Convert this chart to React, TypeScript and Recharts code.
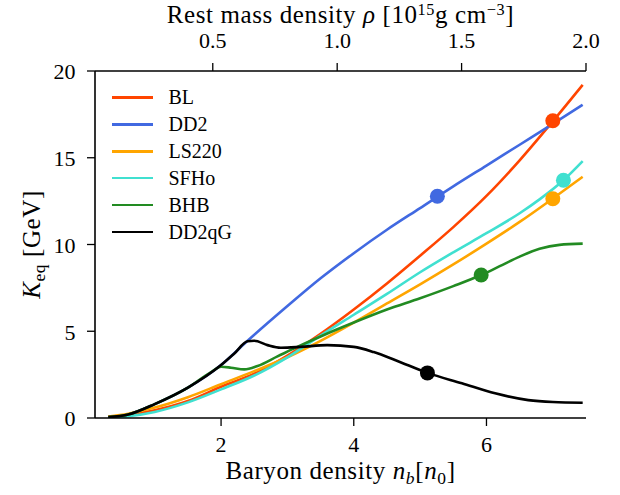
import React from 'react';
import { ComposedChart, Line, Scatter, XAxis, YAxis, Legend, Label } from 'recharts';

// ---- Data (baryon density n_b in units of n_0, K_eq in GeV) ----
const blNb = [0.3, 0.6, 1.0, 1.5, 2.0, 2.5, 3.0, 3.5, 4.0, 4.5, 5.0, 5.5, 6.0, 6.5, 7.0, 7.45];
const blK = [0.05, 0.18, 0.45, 0.98, 1.8, 2.55, 3.6, 4.85, 6.25, 7.75, 9.35, 11.0, 12.8, 14.85, 17.1, 19.2];

const dd2Nb = [0.3, 0.6, 1.0, 1.5, 2.0, 2.4, 3.0, 3.5, 4.0, 4.5, 5.0, 5.5, 6.0, 6.5, 7.0, 7.45];
const dd2K = [0.05, 0.2, 0.8, 1.75, 3.05, 4.45, 6.45, 8.05, 9.5, 10.85, 12.1, 13.35, 14.55, 15.75, 16.95, 18.05];

const ls220Nb = [0.3, 0.6, 1.0, 1.5, 2.0, 2.5, 3.0, 3.5, 4.0, 4.5, 5.0, 5.5, 6.0, 6.5, 7.0, 7.45];
const ls220K = [0.08, 0.25, 0.6, 1.2, 1.95, 2.7, 3.5, 4.45, 5.5, 6.6, 7.7, 8.85, 10.05, 11.3, 12.65, 13.9];

const sfhoNb = [0.3, 0.6, 1.0, 1.5, 2.0, 2.5, 3.0, 3.5, 4.0, 4.5, 5.0, 5.5, 6.0, 6.5, 6.8, 7.16, 7.45];
const sfhoK = [0.02, 0.1, 0.35, 0.9, 1.65, 2.45, 3.5, 4.75, 5.95, 7.15, 8.4, 9.55, 10.65, 11.8, 12.6, 13.7, 14.8];

const bhbNb = [0.3, 0.6, 1.0, 1.5, 1.85, 2.0, 2.15, 2.35, 2.55, 2.85, 3.15, 3.5, 4.0, 4.5, 5.0, 5.5, 5.92, 6.2, 6.5, 6.8, 7.1, 7.45];
const bhbK = [0.05, 0.2, 0.8, 1.75, 2.65, 2.95, 2.9, 2.8, 3.0, 3.55, 4.1, 4.7, 5.5, 6.25, 6.9, 7.6, 8.24, 8.75, 9.3, 9.75, 9.98, 10.05];

const dd2qgNb = [0.3, 0.6, 1.0, 1.5, 2.0, 2.2, 2.4, 2.5, 2.7, 2.9, 3.2, 3.6, 4.0, 4.3, 4.63, 5.11, 5.63, 6.13, 6.63, 7.0, 7.45];
const dd2qgK = [0.05, 0.2, 0.8, 1.75, 3.05, 3.72, 4.42, 4.45, 4.2, 4.05, 4.1, 4.2, 4.1, 3.8, 3.33, 2.6, 2.0, 1.42, 1.03, 0.92, 0.88];

const seriesNames = ['BL', 'DD2', 'LS220', 'SFHo', 'BHB', 'DD2qG'];
const markerNb = [7.0, 5.26, 7.0, 7.16, 5.92, 5.11];
const markerK = [17.13, 12.78, 12.64, 13.7, 8.24, 2.6];

const nbTicks = [2, 4, 6];
const kTicks = [0, 5, 10, 15, 20];
const rhoTicks = [0.5, 1.0, 1.5, 2.0];
const NB_PER_RHO = 3.75;
const NB_DOMAIN: [number, number] = [0.1, 7.5];
const K_DOMAIN: [number, number] = [0, 20];

// ---- Styles ----
const COLORS = ['#FF4500', '#4169E1', '#FFA500', '#40E0D0', '#228B22', '#000000'];
const FONT = "'Liberation Serif', 'Times New Roman', serif";
const TICK_FS = 22;
const LABEL_FS = 25;
const LS = 0.6;
const TICK_LEN = 8;

const toPoints = (nb: number[], k: number[]) => nb.map((x, i) => ({ x, y: k[i] }));

const curves = [
  toPoints(blNb, blK),
  toPoints(dd2Nb, dd2K),
  toPoints(ls220Nb, ls220K),
  toPoints(sfhoNb, sfhoK),
  toPoints(bhbNb, bhbK),
  toPoints(dd2qgNb, dd2qgK),
];

// BL curve re-expressed in rest-mass-density units, used (invisibly) to drive the top/right axes
const rhoFrame = blNb.map((x, i) => ({ x: x / NB_PER_RHO, y: blK[i] }));

const axisLineStyle = { stroke: '#000', strokeWidth: 1.6 };
const tickLineStyle = { stroke: '#000', strokeWidth: 1.3 };

const makeTick = (side: 'bottom' | 'top' | 'left', fmt: (v: number) => string) => (p: any) => {
  const v = p.payload.value;
  const common = { fontFamily: FONT, fontSize: TICK_FS, fill: '#000' };
  if (side === 'bottom') {
    return <text x={p.x} y={p.y} dy="0.72em" textAnchor="middle" {...common}>{fmt(v)}</text>;
  }
  if (side === 'top') {
    return <text x={p.x} y={p.y} textAnchor="middle" {...common}>{fmt(v)}</text>;
  }
  return <text x={p.x} y={p.y} dy="0.38em" textAnchor="end" {...common}>{fmt(v)}</text>;
};

const intFmt = (v: number) => String(v);
const rhoFmt = (v: number) => v.toFixed(1);

const BottomLabel = (props: any) => {
  const { x, width } = props.viewBox;
  return (
    <text x={x + width / 2} y={479} textAnchor="middle" fontFamily={FONT} fontSize={LABEL_FS} letterSpacing={LS} fill="#000">
      Baryon density <tspan fontStyle="italic">n</tspan>
      <tspan fontStyle="italic" fontSize={LABEL_FS * 0.7} dy={5}>b</tspan>
      <tspan dy={-5}>[</tspan>
      <tspan fontStyle="italic">n</tspan>
      <tspan fontSize={LABEL_FS * 0.7} dy={5}>0</tspan>
      <tspan dy={-5}>]</tspan>
    </text>
  );
};

const TopLabel = (props: any) => {
  const { x, width } = props.viewBox;
  return (
    <text x={x + width / 2} y={23} textAnchor="middle" fontFamily={FONT} fontSize={LABEL_FS} letterSpacing={LS} fill="#000">
      Rest mass density <tspan fontStyle="italic">ρ</tspan> [10
      <tspan fontSize={LABEL_FS * 0.65} dy={-8}>15</tspan>
      <tspan dy={8}>g cm</tspan>
      <tspan fontSize={LABEL_FS * 0.65} dy={-8}>−3</tspan>
      <tspan dy={8}>]</tspan>
    </text>
  );
};

const LeftLabel = () => {
  const cx = 40;
  const cy = 244.5;
  return (
    <text x={cx} y={cy} transform={`rotate(-90, ${cx}, ${cy})`} textAnchor="middle" fontFamily={FONT} fontSize={LABEL_FS} letterSpacing={LS} fill="#000">
      <tspan fontStyle="italic">K</tspan>
      <tspan fontSize={LABEL_FS * 0.7} dy={5}>eq</tspan>
      <tspan dy={-5}> [GeV]</tspan>
    </text>
  );
};

const LegendContent = () => (
  <div style={{ fontFamily: FONT, fontSize: 20, color: '#000' }}>
    {seriesNames.map((name, i) => (
      <div key={name} style={{ display: 'flex', alignItems: 'center', height: 26.9 }}>
        <div style={{ width: 41, height: 2.6, background: COLORS[i], marginRight: 15.5 }} />
        <span style={{ lineHeight: '20px', fontFamily: FONT }}>{name}</span>
      </div>
    ))}
  </div>
);

export default function App() {
  return (
    <div style={{ position: 'absolute', left: 0, top: 0, width: 620, height: 495, background: '#fff', fontFamily: FONT }}>
      <ComposedChart width={620} height={495} margin={{ top: 11, right: 34, bottom: 17, left: 30 }}>
        <XAxis
          xAxisId={0}
          dataKey="x"
          type="number"
          domain={NB_DOMAIN}
          ticks={nbTicks}
          allowDataOverflow
          height={60}
          tickSize={TICK_LEN}
          tickMargin={10}
          tick={makeTick('bottom', intFmt)}
          axisLine={axisLineStyle}
          tickLine={tickLineStyle}
        >
          <Label content={BottomLabel} />
        </XAxis>
        <XAxis
          xAxisId="top"
          orientation="top"
          dataKey="x"
          type="number"
          domain={[NB_DOMAIN[0] / NB_PER_RHO, NB_DOMAIN[1] / NB_PER_RHO]}
          ticks={rhoTicks}
          allowDataOverflow
          height={60}
          tickSize={TICK_LEN}
          tickMargin={15}
          tick={makeTick('top', rhoFmt)}
          axisLine={axisLineStyle}
          tickLine={tickLineStyle}
        >
          <Label content={TopLabel} />
        </XAxis>
        <YAxis
          yAxisId={0}
          dataKey="y"
          type="number"
          domain={K_DOMAIN}
          ticks={kTicks}
          allowDataOverflow
          width={65}
          tickSize={TICK_LEN}
          tickMargin={11.5}
          tick={makeTick('left', intFmt)}
          axisLine={axisLineStyle}
          tickLine={tickLineStyle}
        >
          <Label content={LeftLabel} />
        </YAxis>
        <YAxis
          yAxisId="right"
          orientation="right"
          dataKey="y"
          type="number"
          domain={K_DOMAIN}
          allowDataOverflow
          width={0}
          tick={false}
          tickLine={false}
          axisLine={axisLineStyle}
        />
        <Legend
          layout="vertical"
          align="center"
          verticalAlign="middle"
          content={LegendContent}
          wrapperStyle={{ left: 112, top: 84, width: 'auto', height: 'auto' }}
        />
        <Line
          xAxisId="top"
          yAxisId="right"
          data={rhoFrame}
          dataKey="y"
          stroke="#000"
          strokeOpacity={0}
          dot={false}
          activeDot={false}
          legendType="none"
          isAnimationActive={false}
        />
        {curves.map((pts, i) => (
          <Line
            key={seriesNames[i]}
            name={seriesNames[i]}
            data={pts}
            dataKey="y"
            type="monotone"
            stroke={COLORS[i]}
            strokeWidth={2.6}
            dot={false}
            activeDot={false}
            isAnimationActive={false}
          />
        ))}
        {seriesNames.map((name, i) => (
          <Scatter
            key={'m-' + name}
            name={name + ' marker'}
            data={[{ x: markerNb[i], y: markerK[i] }]}
            fill={COLORS[i]}
            isAnimationActive={false}
            shape={(p: any) => <circle cx={p.cx} cy={p.cy} r={7.5} fill={COLORS[i]} />}
          />
        ))}
      </ComposedChart>
    </div>
  );
}
